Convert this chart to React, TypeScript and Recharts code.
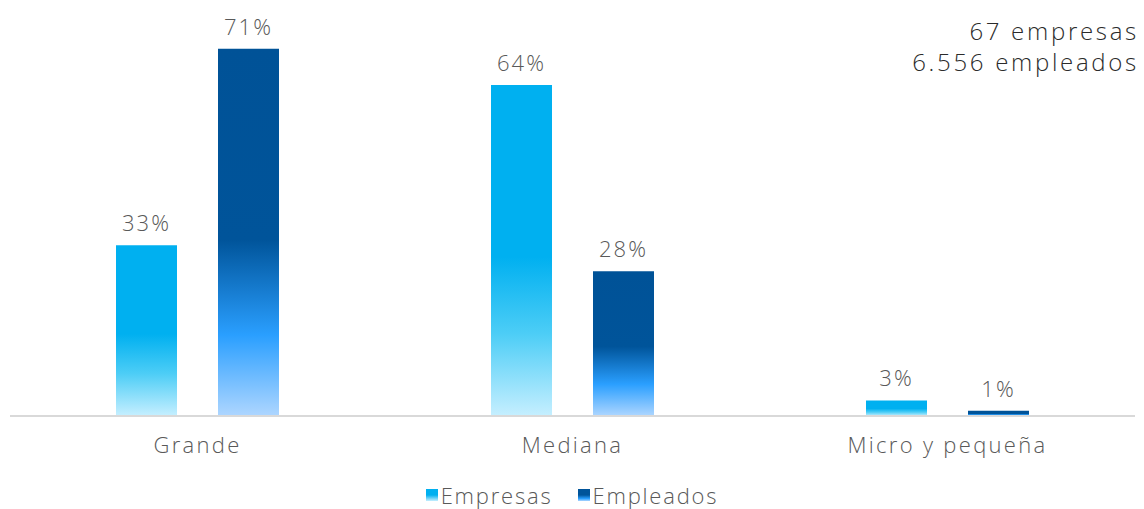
import { Bar, BarChart, LabelList, XAxis, YAxis } from "recharts";

const categories = ["Grande", "Mediana", "Micro y pequeña"];
const empresas = [33, 64, 3];
const empleados = [71, 28, 1];
const summaryLines = ["67 empresas", "6.556 empleados"];
const seriesNames = ["Empresas", "Empleados"];

const data = categories.map((name, i) => ({ name, empresas: empresas[i], empleados: empleados[i] }));

const textColor = "#595959";
const font = "'Open Sans', sans-serif";
const gradients = [
  "linear-gradient(#00B0F0 0%, #00B0F0 50%, #C6EFFF 100%)",
  "linear-gradient(#00549A 0%, #00549A 50%, #2A9FFF 80%, #AED6FF 100%)",
];

export default function App() {
  return (
    <div style={{ position: "relative", width: 1128, height: 501, fontFamily: font, fontWeight: 300 }}>
      {summaryLines.map((l, i) => (
        <div
          key={l}
          style={{
            position: "absolute",
            right: -3,
            top: 11 + i * 31,
            fontSize: 24,
            letterSpacing: 2.7,
            lineHeight: "24px",
            height: 24,
            whiteSpace: "nowrap",
            color: "#2b2b2b",
            zIndex: 1,
          }}
        >
          {l}
        </div>
      ))}
      <BarChart width={1128} height={493} data={data} margin={{ top: 20, right: 1, bottom: 55, left: 2 }} barGap={41} barCategoryGap={106}>
        <defs>
          <linearGradient id="gradEmpresas" x1="0" x2="0" y1="0" y2="1">
            <stop offset="0%" stopColor="#00B0F0" />
            <stop offset="52%" stopColor="#00B0F0" />
            <stop offset="75%" stopColor="#4CCDF6" />
            <stop offset="100%" stopColor="#C6EFFF" />
          </linearGradient>
          <linearGradient id="gradEmpleados" x1="0" x2="0" y1="0" y2="1">
            <stop offset="0%" stopColor="#005297" />
            <stop offset="52%" stopColor="#00549A" />
            <stop offset="78%" stopColor="#2A9FFF" />
            <stop offset="100%" stopColor="#AED6FF" />
          </linearGradient>
        </defs>
        <XAxis
          dataKey="name"
          axisLine={{ stroke: "#D9D9D9", strokeWidth: 2 }}
          tickLine={false}
          tick={{ fill: textColor, fontSize: 22, fontFamily: font, fontWeight: 300, letterSpacing: 2.3 }}
          tickMargin={15}
        />
        <YAxis hide domain={[0, 75]} />
        <Bar dataKey="empresas" name="Empresas" fill="url(#gradEmpresas)" isAnimationActive={false}>
          <LabelList dataKey="empresas" position="top" offset={14} formatter={(v: number) => `${v}%`} fill={textColor} fontSize={22} fontFamily={font} fontWeight={300} letterSpacing={2} />
        </Bar>
        <Bar dataKey="empleados" name="Empleados" fill="url(#gradEmpleados)" isAnimationActive={false}>
          <LabelList dataKey="empleados" position="top" offset={14} formatter={(v: number) => `${v}%`} fill={textColor} fontSize={22} fontFamily={font} fontWeight={300} letterSpacing={2} />
        </Bar>
      </BarChart>
      <div
        style={{
          position: "absolute",
          top: 475,
          left: 0,
          width: 1128,
          display: "flex",
          justifyContent: "center",
          gap: 25,
          fontSize: 22,
          letterSpacing: 1.8,
          color: textColor,
          lineHeight: "24px",
        }}
      >
        {seriesNames.map((s, i) => (
          <div key={s} style={{ display: "flex", alignItems: "center" }}>
            <span style={{ display: "inline-block", width: 12, height: 12, background: gradients[i], marginRight: 3 }} />
            {s}
          </div>
        ))}
      </div>
    </div>
  );
}
